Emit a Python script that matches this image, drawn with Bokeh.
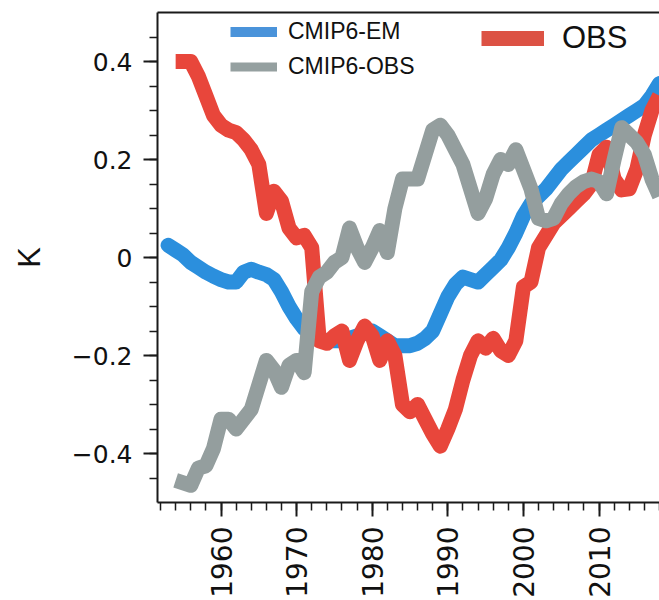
import math

from bokeh.embed import file_html
from bokeh.models import FixedTicker, Legend, LegendItem, LinearAxis, Range1d
from bokeh.plotting import figure
from bokeh.resources import INLINE

# --- data: temperature anomaly (K) ------------------------------------------
years_em = list(range(1953, 2019))
cmip6_em = [
    0.025, 0.015, 0.005, -0.01, -0.02, -0.03, -0.038, -0.045, -0.05, -0.05,
    -0.03, -0.024, -0.03, -0.035, -0.045, -0.07, -0.10, -0.125, -0.145, -0.16,
    -0.165, -0.17, -0.17, -0.17, -0.165, -0.16, -0.155, -0.15, -0.16, -0.17,
    -0.18, -0.18, -0.18, -0.175, -0.165, -0.15, -0.115, -0.08, -0.055, -0.04,
    -0.045, -0.05, -0.035, -0.02, -0.005, 0.02, 0.05, 0.085, 0.11, 0.125,
    0.14, 0.16, 0.18, 0.195, 0.21, 0.225, 0.24, 0.25, 0.26, 0.27,
    0.28, 0.29, 0.30, 0.31, 0.33, 0.355,
]

years_obs = list(range(1954, 2019))
obs = [
    0.40, 0.40, 0.40, 0.37, 0.33, 0.29, 0.27, 0.26, 0.255, 0.24,
    0.22, 0.19, 0.09, 0.135, 0.115, 0.06, 0.04, 0.045, 0.02, -0.17,
    -0.175, -0.16, -0.15, -0.21, -0.17, -0.14, -0.16, -0.21, -0.17, -0.20,
    -0.30, -0.315, -0.30, -0.33, -0.36, -0.385, -0.35, -0.31, -0.25, -0.20,
    -0.17, -0.185, -0.165, -0.19, -0.20, -0.17, -0.06, -0.05, 0.02, 0.045,
    0.07, 0.085, 0.10, 0.115, 0.13, 0.15, 0.21, 0.225, 0.16, 0.138,
    0.14, 0.18, 0.25, 0.30, 0.33,
]
cmip6_obs = [
    -0.455, -0.46, -0.465, -0.43, -0.425, -0.39, -0.33, -0.33, -0.35, -0.33,
    -0.31, -0.26, -0.21, -0.23, -0.265, -0.22, -0.21, -0.235, -0.07, -0.04,
    -0.03, -0.01, 0.00, 0.06, 0.02, -0.01, 0.02, 0.055, 0.01, 0.10,
    0.16, 0.16, 0.16, 0.21, 0.26, 0.27, 0.25, 0.22, 0.19, 0.14,
    0.09, 0.12, 0.17, 0.20, 0.19, 0.22, 0.18, 0.14, 0.08, 0.075,
    0.08, 0.11, 0.13, 0.145, 0.155, 0.16, 0.155, 0.13, 0.20, 0.265,
    0.25, 0.235, 0.21, 0.16, 0.125,
]

x_ticks = [1960, 1970, 1980, 1990, 2000, 2010]
x_minor_ticks = [1952, 1954, 1956, 1958, 1960, 1962, 1964, 1966, 1968, 1970,
                 1972, 1974, 1976, 1978, 1980, 1982, 1984, 1986, 1988, 1990,
                 1992, 1994, 1996, 1998, 2000, 2002, 2004, 2006, 2008, 2010,
                 2012, 2014, 2016, 2018]
y_ticks = [-0.4, -0.2, 0, 0.2, 0.4]
y_tick_labels = ["\u22120.4", "\u22120.2", "0", "0.2", "0.4"]
y_minor_ticks = [-0.45, -0.4, -0.35, -0.3, -0.25, -0.2, -0.15, -0.1, -0.05, 0,
                 0.05, 0.1, 0.15, 0.2, 0.25, 0.3, 0.35, 0.4, 0.45]

BLUE = "#2b8fdd"
RED = "#e8463b"
GRAY = "#949e9e"
BLUE_KEY = "#4a93da"
GRAY_KEY = "#95a0a0"
RED_KEY = "#dc5244"
NAN = float("nan")

p = figure(
    width=659, height=600,
    output_backend="svg", toolbar_location=None,
    x_range=Range1d(1951.6, 2018.0), y_range=Range1d(-0.5, 0.5),
    min_border_left=157, min_border_right=0,
    min_border_top=12, min_border_bottom=96,
)
p.outline_line_color = None
p.grid.visible = False
p.background_fill_color = "white"
p.border_fill_color = "white"

for ax in (p.xaxis[0], p.yaxis[0]):
    ax.axis_line_width = 2
    ax.axis_line_color = "#1a1a1a"
    ax.major_tick_line_width = 2
    ax.major_tick_line_color = "#1a1a1a"
    ax.minor_tick_line_width = 1.5
    ax.minor_tick_line_color = "#1a1a1a"
    ax.major_tick_in = 0
    ax.major_tick_out = 14
    ax.minor_tick_in = 0
    ax.minor_tick_out = 8
    ax.major_label_text_font = "DejaVu Sans"
    ax.major_label_text_color = "#111111"

xa = p.xaxis[0]
xa.ticker = FixedTicker(ticks=x_ticks, minor_ticks=x_minor_ticks)
xa.major_label_orientation = math.pi / 2
xa.major_label_text_font_size = "28px"
xa.major_label_standoff = 10

ya = p.yaxis[0]
ya.ticker = FixedTicker(ticks=y_ticks, minor_ticks=y_minor_ticks)
ya.major_label_overrides = dict(zip(y_ticks, y_tick_labels))
ya.major_label_text_font_size = "25px"
ya.major_label_standoff = 11
ya.axis_label = "K"
ya.axis_label_text_font = "Liberation Sans"
ya.axis_label_text_font_size = "31px"
ya.axis_label_text_font_style = "normal"
ya.axis_label_text_color = "#111111"
ya.axis_label_standoff = 22

# top frame line
top = LinearAxis(ticker=FixedTicker(ticks=[]), axis_line_width=2,
                 axis_line_color="#1a1a1a",
                 major_label_text_font_size="0px",
                 major_tick_line_color=None, minor_tick_line_color=None)
p.add_layout(top, "above")

# series
p.line(years_em, cmip6_em, line_color=BLUE, line_width=15,
       line_join="round", line_cap="round")
p.line(years_obs, obs, line_color=RED, line_width=15, line_join="round")
p.line(years_obs, cmip6_obs, line_color=GRAY, line_width=15, line_join="round")

# legend keys (renderers with no visible points, used only for the key swatches)
key_em = p.line([NAN], [NAN], line_color=BLUE_KEY, line_width=10)
key_cobs = p.line([NAN], [NAN], line_color=GRAY_KEY, line_width=9)
key_obs = p.line([NAN], [NAN], line_color=RED_KEY, line_width=15)

legend_models = Legend(
    items=[LegendItem(label="CMIP6-EM", renderers=[key_em], index=0),
           LegendItem(label="CMIP6-OBS", renderers=[key_cobs], index=0)],
    location=(73, 418.5), orientation="vertical",
    glyph_width=47, glyph_height=35, label_height=35, label_standoff=11,
    label_text_font="Liberation Sans", label_text_font_size="23px",
    label_text_color="#111111",
    padding=0, margin=0, spacing=0,
    border_line_color=None, background_fill_alpha=0,
)
legend_obs = Legend(
    items=[LegendItem(label="OBS", renderers=[key_obs], index=0)],
    location=(324, 446), orientation="vertical",
    glyph_width=63, glyph_height=30, label_height=30, label_standoff=18,
    label_text_font="Liberation Sans", label_text_font_size="31px",
    label_text_color="#111111",
    padding=0, margin=0, spacing=0,
    border_line_color=None, background_fill_alpha=0,
)
p.add_layout(legend_models)
p.add_layout(legend_obs)

open("out.html", "w").write(file_html(p, INLINE))
